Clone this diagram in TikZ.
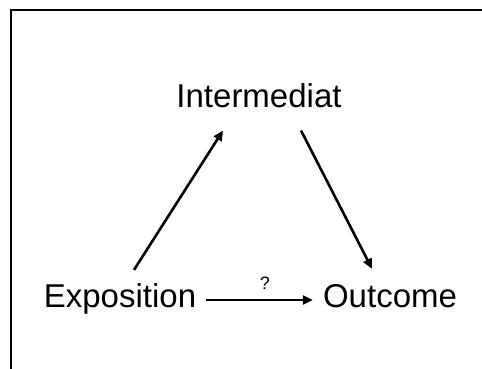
\documentclass[tikz,border=0pt]{standalone}
\usepackage{fontspec}
\setmainfont{Liberation Sans}
\usetikzlibrary{positioning,arrows.meta}
\tikzset{
  var/.style={font=\fontsize{33}{36}\selectfont, inner sep=0pt, anchor=base},
  arr/.style={-{Triangle[length=10pt,width=9pt]}, line width=2.6pt},
}
\begin{document}
\begin{tikzpicture}[x=1pt,y=-1pt]
            \useasboundingbox (0,0) rectangle (482,369);
            \draw[line width=2.6pt] (11,369) -- (11,10) -- (482,10);
            \node[var] (inter) at (259,107) {Intermediat};
            \node[var] (expo) at (120,307) {Exposition};
            \node[var] (out) at (390,307) {Outcome};
            \draw[arr] ([xshift=14pt,yshift=13pt]expo.north) -- ([xshift=-36pt,yshift=-23pt]inter.south);
            \draw[arr] ([xshift=42pt,yshift=-23pt]inter.south) -- ([xshift=-18pt,yshift=15pt]out.north);
            \draw[arr] ([xshift=10pt,yshift=-1.5pt]expo.east) -- ([xshift=-10pt,yshift=-1.5pt]expo.east -| out.west)
                node[pos=0.55, above=9pt, inner sep=0pt, font=\fontsize{18}{20}\selectfont] (q) {?};
\end{tikzpicture}
\end{document}
